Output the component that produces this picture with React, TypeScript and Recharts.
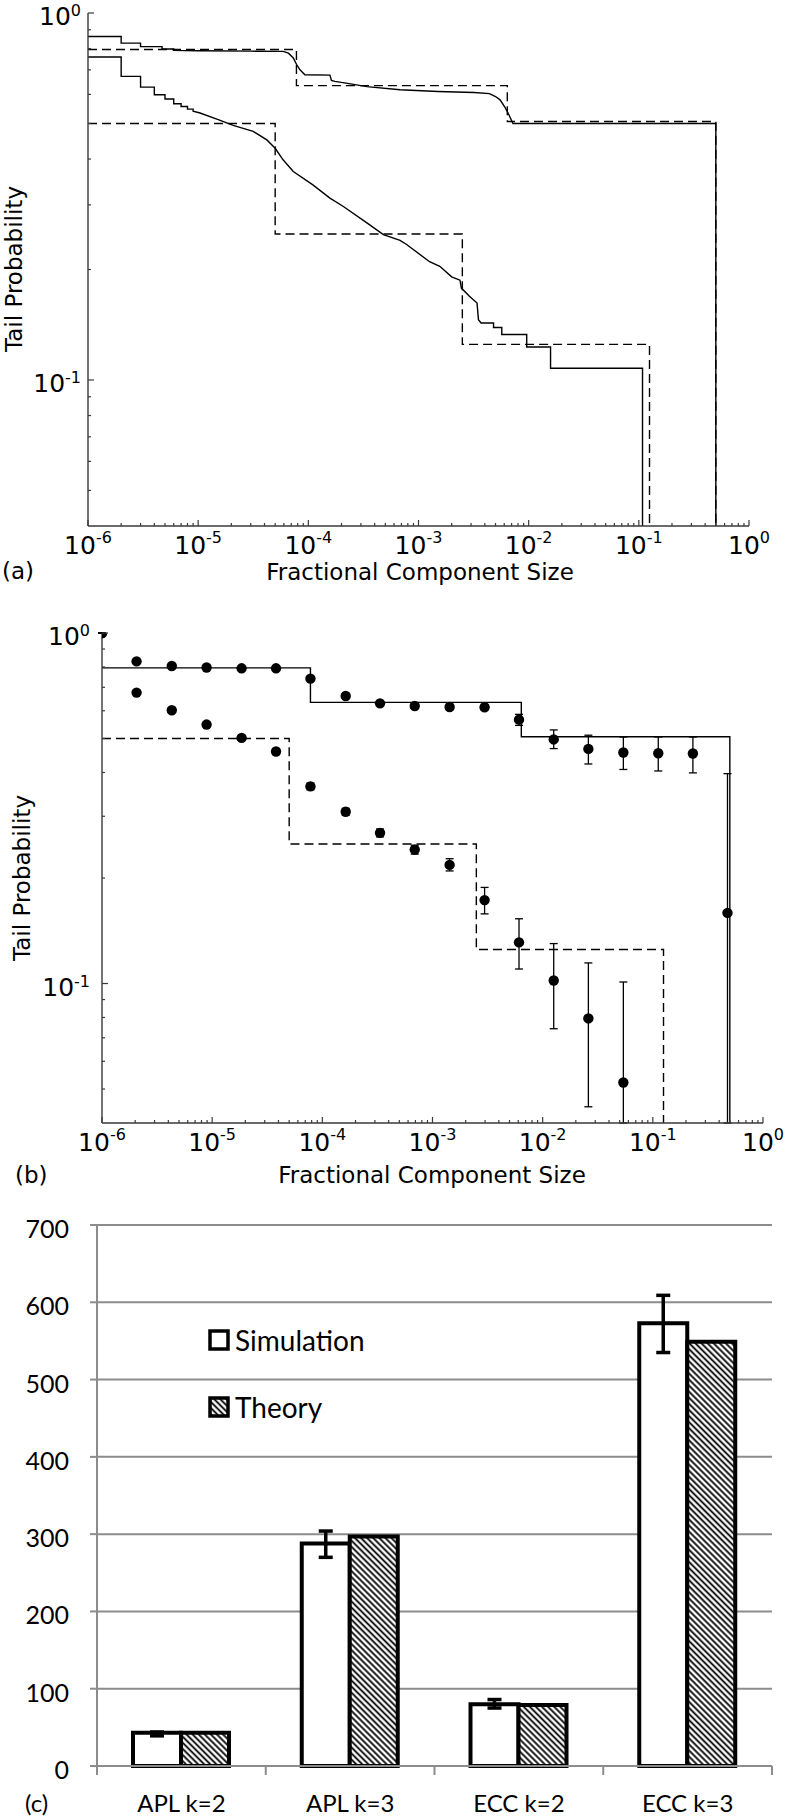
import React from "react";
import {
  ComposedChart,
  Line,
  Scatter,
  XAxis,
  YAxis,
  ErrorBar,
  BarChart,
  Bar,
  CartesianGrid,
  Legend,
} from "recharts";

const FONT = "'DejaVu Sans', sans-serif";
const BAR_FONT = "Lato, 'Open Sans', sans-serif";
const FRAME = "#3a3a3a";
const GRID = "#8c8c8c";

// log axes: decade exponents + minor multipliers
const xDecades = [-6, -5, -4, -3, -2, -1, 0];
const minorSteps = [2, 3, 4, 5, 6, 7, 8, 9];
const yTicks = [0.05, 0.06, 0.07, 0.08, 0.09, 0.1, 0.2, 0.3, 0.4, 0.5, 0.6, 0.7, 0.8, 0.9, 1];
const xTicks = xDecades.flatMap((d) =>
  d === 0 ? [1] : [Math.pow(10, d), ...minorSteps.map((m) => m * Math.pow(10, d))]
);

// theory step functions: [size where level starts, tail probability]
const theoryUpper: [number, number][] = [
  [1e-6, 0.795],
  [7.8e-5, 0.634],
  [6.4e-3, 0.506],
  [0.5, 0.01],
];
const theoryLower: [number, number][] = [
  [1e-6, 0.5],
  [5e-5, 0.25],
  [2.5e-3, 0.125],
  [0.125, 0.01],
];

// (a) simulated tail curves, corners of the empirical curves
const simUpperA: [number, number][] = [
  [1e-6, 0.863], [2e-6, 0.863], [2e-6, 0.828], [3e-6, 0.828], [3e-6, 0.81],
  [4.7e-6, 0.81], [4.7e-6, 0.798], [6e-6, 0.798], [6e-6, 0.791], [1e-5, 0.789],
  [3e-5, 0.787], [5.9e-5, 0.786], [6.6e-5, 0.777], [7.3e-5, 0.754], [7.8e-5, 0.725],
  [8.4e-5, 0.7], [9.3e-5, 0.679], [1.57e-4, 0.677], [1.62e-4, 0.655], [1.74e-4, 0.651],
  [2.2e-4, 0.644], [3.4e-4, 0.63], [6.8e-4, 0.618], [1.5e-3, 0.611], [3.2e-3, 0.607],
  [4.4e-3, 0.603], [5e-3, 0.592], [5.5e-3, 0.58], [6.1e-3, 0.553], [6.5e-3, 0.534],
  [7.2e-3, 0.5], [0.5, 0.5], [0.5, 0.01],
];
const simLowerA: [number, number][] = [
  [1e-6, 0.759], [2e-6, 0.759], [2e-6, 0.672], [3e-6, 0.672], [3e-6, 0.628],
  [4e-6, 0.628], [4e-6, 0.599], [5e-6, 0.599], [5e-6, 0.583], [6e-6, 0.583],
  [6e-6, 0.566], [7e-6, 0.566], [7e-6, 0.556], [8e-6, 0.556], [8e-6, 0.547],
  [9e-6, 0.547], [9e-6, 0.54], [1.04e-5, 0.534], [1.5e-5, 0.513], [2.08e-5, 0.494],
  [3.16e-5, 0.476], [4.2e-5, 0.451], [5e-5, 0.428], [5.9e-5, 0.398], [7.3e-5, 0.37],
  [1.1e-4, 0.34], [1.57e-4, 0.313], [2.08e-4, 0.297], [3.4e-4, 0.268], [4.8e-4, 0.249],
  [6.8e-4, 0.24], [7.8e-4, 0.234], [1.26e-3, 0.21], [1.56e-3, 0.204], [2e-3, 0.191],
  [2.38e-3, 0.187], [2.45e-3, 0.178], [2.9e-3, 0.169], [3.4e-3, 0.162], [3.5e-3, 0.146],
  [3.7e-3, 0.143], [4.8e-3, 0.143], [4.8e-3, 0.139], [5.7e-3, 0.139], [5.7e-3, 0.133],
  [9.6e-3, 0.133], [9.6e-3, 0.123], [1.58e-2, 0.123], [1.58e-2, 0.1076], [0.108, 0.1076],
  [0.108, 0.01],
];

// (b) simulation points with error bars (0.04 = runs off the bottom of the axis)
const sizesB = [
  1e-6, 2.06e-6, 4.3e-6, 8.9e-6, 1.85e-5, 3.8e-5, 7.8e-5, 1.63e-4, 3.34e-4, 6.9e-4,
  1.43e-3, 2.97e-3, 6.1e-3, 1.26e-2, 2.6e-2, 5.4e-2, 0.112, 0.231, 0.476,
];
const upperB = [1, 0.83, 0.805, 0.797, 0.793, 0.793, 0.741, 0.661, 0.63, 0.619, 0.615, 0.614, 0.566, 0.497, 0.467, 0.456, 0.454, 0.453, 0.159];
const upperLoB = [1, 0.82, 0.795, 0.79, 0.786, 0.786, 0.733, 0.652, 0.622, 0.61, 0.605, 0.604, 0.545, 0.468, 0.423, 0.408, 0.404, 0.399, 0.04];
const upperHiB = [1, 0.84, 0.815, 0.804, 0.8, 0.8, 0.749, 0.67, 0.638, 0.628, 0.625, 0.624, 0.586, 0.529, 0.511, 0.505, 0.505, 0.505, 0.397];
const lowerB = [1, 0.676, 0.602, 0.548, 0.502, 0.459, 0.365, 0.309, 0.269, 0.241, 0.218, 0.173, 0.131, 0.102, 0.0795, 0.0522];
const lowerLoB = [1, 0.668, 0.594, 0.54, 0.494, 0.451, 0.357, 0.302, 0.262, 0.234, 0.2095, 0.158, 0.11, 0.0743, 0.0445, 0.04];
const lowerHiB = [1, 0.684, 0.61, 0.556, 0.51, 0.467, 0.373, 0.316, 0.276, 0.248, 0.227, 0.188, 0.153, 0.13, 0.1145, 0.101];

// (c) bars
const categories = ["APL k=2", "APL k=3", "ECC k=2", "ECC k=3"];
const simulation = [43, 288, 80, 573];
const theory = [43, 297, 79, 549];
const simLow = [39, 270, 75, 535];
const simHigh = [44, 304, 86, 609];
const barTicks = [0, 100, 200, 300, 400, 500, 600, 700];
const legendNames = ["Simulation", "Theory"];

const pts = (arr: [number, number][]) => arr.map(([x, y]) => ({ x, y }));
const dots = (ys: number[], lo: number[], hi: number[]) =>
  ys.map((y, i) => ({ x: sizesB[i], y, err: [y - lo[i], hi[i] - y] }));

const barData = categories.map((name, i) => ({
  name,
  sim: simulation[i],
  theory: theory[i],
  simErr: [simulation[i] - simLow[i], simHigh[i] - simulation[i]],
}));

const isMajor = (v: number) => {
  const e = Math.log10(v);
  return Math.abs(e - Math.round(e)) < 1e-6;
};

const Pow10 = ({ v, rise = 11 }: { v: number; rise?: number }) => (
  <>
    <tspan>10</tspan>
    <tspan dy={-rise} fontSize={16}>
      {Math.round(Math.log10(v))}
    </tspan>
  </>
);

const logTick = (side: string, labelGap = 8) => (p: any) => {
  const { x, y, payload } = p;
  const v = payload.value;
  const major = isMajor(v);
  const len = major ? 6 : 3;
  const ls = { stroke: FRAME, strokeWidth: 1.2 };
  let line = null;
  if (side === "bottom") line = <line x1={x} y1={y} x2={x} y2={y - len} {...ls} />;
  if (side === "top") line = <line x1={x} y1={y} x2={x} y2={y + len} {...ls} />;
  if (side === "left") line = <line x1={x} y1={y} x2={x + len} y2={y} {...ls} />;
  if (side === "right") line = <line x1={x} y1={y} x2={x - len} y2={y} {...ls} />;
  let label = null;
  if (major && side === "bottom")
    label = (
      <text x={x} y={y + 28} textAnchor="middle" fontFamily={FONT} fontSize={25} fill="#000" stroke="none">
        <Pow10 v={v} />
      </text>
    );
  if (major && side === "left")
    label = (
      <text x={x - labelGap} y={y + 12} textAnchor="end" fontFamily={FONT} fontSize={25} fill="#000" stroke="none">
        <Pow10 v={v} rise={9} />
      </text>
    );
  return (
    <g>
      {line}
      {label}
    </g>
  );
};

const frameLine = { stroke: FRAME, strokeWidth: 1.4 };

const logAxes = (yWidth: number, xHeight: number, labelGap: number) => [
  <XAxis key="xb" dataKey="x" type="number" scale="log" domain={[1e-6, 1]} allowDataOverflow
    ticks={xTicks} interval={0} height={xHeight} tickSize={0} tickMargin={0}
    axisLine={frameLine} tickLine={false} tick={logTick("bottom")} />,
  <XAxis key="xt" xAxisId="top" orientation="top" dataKey="x" type="number" scale="log"
    domain={[1e-6, 1]} allowDataOverflow ticks={xTicks} interval={0} height={0} tickSize={0}
    tickMargin={0} axisLine={frameLine} tickLine={false} tick={logTick("top")} />,
  <YAxis key="yl" dataKey="y" type="number" scale="log" domain={[0.04, 1]} allowDataOverflow
    ticks={yTicks} interval={0} width={yWidth} tickSize={0} tickMargin={0}
    axisLine={frameLine} tickLine={false} tick={logTick("left", labelGap)} />,
  <YAxis key="yr" yAxisId="right" orientation="right" dataKey="y" type="number" scale="log"
    domain={[0.04, 1]} allowDataOverflow ticks={yTicks} interval={0} width={0} tickSize={0}
    tickMargin={0} axisLine={frameLine} tickLine={false} tick={logTick("right")} />,
];

const Txt = ({ x, y, children, font = FONT, size = 23, rotate = false, start = false }: any) => (
  <div
    style={{
      position: "absolute",
      left: x,
      top: y,
      transform: `translate(${start ? "0" : "-50%"}, -50%)${rotate ? " rotate(-90deg)" : ""}`,
      fontFamily: font,
      fontSize: size,
      lineHeight: 1,
      whiteSpace: "nowrap",
      color: "#000",
    }}
  >
    {children}
  </div>
);

// panel (b) layout
const B_LEFT = 102;
const B_TOP = 33;
const B_RIGHT = 26;
const B_XH = 57;
const B_H = 580;

const renderDot = (p: any) => (
  <circle cx={p.cx} cy={p.cy} r={5.2} fill="#000" clipPath="url(#plotClipB)" />
);

const CAT_HALF = (789 - 97 - 17) / categories.length / 2;

const CategoryTick = (p: any) => {
  const { x, y, payload, index } = p;
  return (
    <g>
      <line x1={x - CAT_HALF} y1={y} x2={x - CAT_HALF} y2={y + 9} stroke={GRID} strokeWidth={2} />
      {index === categories.length - 1 && (
        <line x1={x + CAT_HALF} y1={y} x2={x + CAT_HALF} y2={y + 9} stroke={GRID} strokeWidth={2} />
      )}
      <text x={x} y={y + 46} textAnchor="middle" fontFamily={BAR_FONT} fontSize={24} fill="#000">
        {payload.value}
      </text>
    </g>
  );
};

const ValueTick = (p: any) => (
  <text x={p.x} y={p.y + 13} textAnchor="end" fontFamily={BAR_FONT} fontSize={25} fill="#000">
    {p.payload.value}
  </text>
);

const BarLegend = () => (
  <div style={{ fontFamily: BAR_FONT, fontSize: 28, lineHeight: 1 }}>
    {legendNames.map((name, i) => (
      <div key={name} style={{ display: "flex", alignItems: "center", height: 22, marginBottom: i === 0 ? 45 : 0 }}>
        <svg width={22} height={22}>
          <defs>
            <pattern id="hatchLegend" patternUnits="userSpaceOnUse" width={4.3} height={4.3} patternTransform="rotate(-45)">
              <rect width={4.3} height={4.3} fill="#fff" />
              <line x1={2.15} y1={0} x2={2.15} y2={4.3} stroke="#000" strokeWidth={1.8} />
            </pattern>
          </defs>
          <rect x={2} y={2} width={18} height={18} fill={i === 0 ? "#fff" : "url(#hatchLegend)"} stroke="#000" strokeWidth={3.5} />
        </svg>
        <span style={{ marginLeft: 5 }}>{name}</span>
      </div>
    ))}
  </div>
);

const lineProps = {
  dataKey: "y",
  stroke: "#000",
  strokeWidth: 1.4,
  dot: false,
  activeDot: false,
  isAnimationActive: false,
};

export default function App() {
  return (
    <div style={{ position: "absolute", left: 0, top: 0, width: 789, height: 1818, background: "#fff" }}>
      {/* (a) */}
      <div style={{ position: "absolute", left: 0, top: 0 }}>
        <ComposedChart width={789} height={600} margin={{ top: 13, right: 40, bottom: 0, left: 0 }}>
          {logAxes(88, 74, 7)}
          <Line data={pts(theoryUpper)} type="stepAfter" strokeDasharray="9 5" {...lineProps} />
          <Line data={pts(theoryLower)} type="stepAfter" strokeDasharray="9 5" {...lineProps} />
          <Line data={pts(simUpperA)} type="linear" {...lineProps} />
          <Line data={pts(simLowerA)} type="linear" {...lineProps} />
        </ComposedChart>
      </div>
      <Txt x={14} y={269} rotate>Tail Probability</Txt>
      <Txt x={420} y={572}>Fractional Component Size</Txt>
      <Txt x={2} y={571} start>(a)</Txt>

      {/* (b) */}
      <div style={{ position: "absolute", left: 0, top: 600 }}>
        <ComposedChart width={789} height={B_H} margin={{ top: B_TOP, right: B_RIGHT, bottom: 0, left: 0 }}>
          <defs>
            <clipPath id="plotClipB">
              <rect x={B_LEFT} y={B_TOP} width={789 - B_LEFT - B_RIGHT} height={B_H - B_TOP - B_XH} />
            </clipPath>
          </defs>
          {logAxes(B_LEFT, B_XH, 12)}
          <Line data={pts(theoryUpper)} type="stepAfter" {...lineProps} />
          <Line data={pts(theoryLower)} type="stepAfter" strokeDasharray="9 5" {...lineProps} />
          <Scatter data={dots(upperB, upperLoB, upperHiB)} dataKey="y" shape={renderDot} isAnimationActive={false}>
            <ErrorBar dataKey="err" direction="y" width={4} stroke="#000" strokeWidth={1.3} isAnimationActive={false} />
          </Scatter>
          <Scatter data={dots(lowerB, lowerLoB, lowerHiB)} dataKey="y" shape={renderDot} isAnimationActive={false}>
            <ErrorBar dataKey="err" direction="y" width={4} stroke="#000" strokeWidth={1.3} isAnimationActive={false} />
          </Scatter>
        </ComposedChart>
      </div>
      <Txt x={22} y={878} rotate>Tail Probability</Txt>
      <Txt x={432} y={1175}>Fractional Component Size</Txt>
      <Txt x={15} y={1175} start>(b)</Txt>

      {/* (c) */}
      <div style={{ position: "absolute", left: 0, top: 1180 }}>
        <BarChart width={789} height={638} data={barData} margin={{ top: 45, right: 17, bottom: 0, left: 0 }} barCategoryGap={36} barGap={0}>
          <defs>
            <pattern id="hatch" patternUnits="userSpaceOnUse" width={4.3} height={4.3} patternTransform="rotate(-45)">
              <rect width={4.3} height={4.3} fill="#fff" />
              <line x1={2.15} y1={0} x2={2.15} y2={4.3} stroke="#000" strokeWidth={1.8} />
            </pattern>
          </defs>
          <CartesianGrid vertical={false} stroke={GRID} strokeWidth={2} />
          <XAxis dataKey="name" height={52} axisLine={{ stroke: GRID, strokeWidth: 2 }} tickLine={false}
            tickSize={0} tickMargin={0} interval={0} tick={CategoryTick} />
          <YAxis domain={[0, 700]} ticks={barTicks} interval={0} width={97}
            axisLine={{ stroke: GRID, strokeWidth: 2 }} tickLine={{ stroke: GRID, strokeWidth: 2 }}
            tickSize={7} tickMargin={21} tick={ValueTick} />
          <Legend layout="vertical" align="center" verticalAlign="middle" content={BarLegend}
            wrapperStyle={{ left: 208, top: 149, width: 240 }} />
          <Bar dataKey="sim" name="Simulation" fill="#fff" stroke="#000" strokeWidth={4} isAnimationActive={false}>
            <ErrorBar dataKey="simErr" direction="y" width={7} stroke="#000" strokeWidth={3.5} isAnimationActive={false} />
          </Bar>
          <Bar dataKey="theory" name="Theory" fill="url(#hatch)" stroke="#000" strokeWidth={4} isAnimationActive={false} />
        </BarChart>
      </div>
      <Txt x={25} y={1803} font={BAR_FONT} size={24} start>(c)</Txt>
    </div>
  );
}
